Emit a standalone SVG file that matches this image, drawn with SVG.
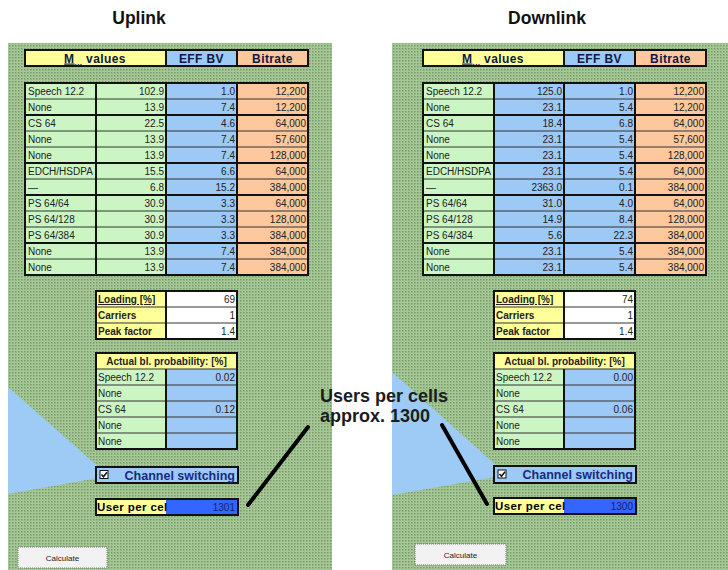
<svg xmlns="http://www.w3.org/2000/svg" width="728" height="570" viewBox="0 0 728 570">
<defs>
<pattern id="dots" width="3" height="3" patternUnits="userSpaceOnUse"><rect width="3" height="3" fill="#a6c897"/><rect width="1.5" height="1.5" fill="#779a69"/></pattern>
<clipPath id="labclip"><rect x="25" y="83" width="70" height="192"/></clipPath>
<style>
text{font-family:"Liberation Sans",Arial,sans-serif;fill:#222}
.c{font-size:10px}
.r{text-anchor:end}
.m{text-anchor:middle}
.b{font-weight:bold}
.h{font-size:12px;font-weight:bold;fill:#101840;text-anchor:middle;letter-spacing:0.4px}
.g{fill:#ccf5c4}
.bl{fill:#9cc9f5}
.o{fill:#fcc89c}
.y{fill:#ffff99}
.w{fill:#fff}
.frame{fill:none;stroke:#111;stroke-width:2}
.thin{stroke:#333;stroke-width:1}
.thick{stroke:#111;stroke-width:2}
.title{font-size:17.5px;font-weight:bold;fill:#111;text-anchor:middle}
.note{font-size:18px;font-weight:bold;fill:#1c1c1c}
.btn{fill:#f2f2f2;stroke:#777;stroke-width:1;stroke-dasharray:1,1}
</style>
</defs>
<rect width="728" height="570" fill="#fff"/>
<g id="panel-uplink">
<rect x="8" y="43" width="324" height="527" fill="url(#dots)"/>
<polygon points="8,387 109,476 8,494" fill="#9dcbf5"/>
</g>
<g id="panel-downlink">
<rect x="392" y="43" width="336" height="527" fill="url(#dots)"/>
<polygon points="392,372 507,475 392,495" fill="#9dcbf5"/>
</g>
<g id="title-uplink"><text class="title" x="139" y="24">Uplink</text></g>
<g id="title-downlink"><text class="title" x="547" y="24">Downlink</text></g>

<g id="ul-header">
<rect class="y" x="25" y="50" width="141" height="16"/><rect class="bl" x="166" y="50" width="71" height="16"/><rect class="o" x="237" y="50" width="71" height="16"/>
<rect class="frame" x="25" y="50" width="283" height="16"/><line class="thick" x1="166" y1="50" x2="166" y2="66"/><line class="thick" x1="237" y1="50" x2="237" y2="66"/>
<text class="h" x="95" y="62.5"><tspan text-decoration="underline">M</tspan><tspan font-size="8" dy="2">,..</tspan><tspan dy="-2"> values</tspan></text>
<text class="h" x="201.5" y="62.5">EFF BV</text><text class="h" x="272.5" y="62.5">Bitrate</text>
</g>
<g id="ul-table">
<rect class="g" x="25" y="83" width="141" height="192"/><rect class="bl" x="166" y="83" width="71" height="192"/><rect class="o" x="237" y="83" width="71" height="192"/>
<g class="thin"><line x1="25" y1="99" x2="308" y2="99"/><line x1="25" y1="131" x2="308" y2="131"/><line x1="25" y1="147" x2="308" y2="147"/><line x1="25" y1="179" x2="308" y2="179"/><line x1="25" y1="211" x2="308" y2="211"/><line x1="25" y1="227" x2="308" y2="227"/><line x1="25" y1="259" x2="308" y2="259"/></g>
<g class="thick"><line x1="25" y1="115" x2="308" y2="115"/><line x1="25" y1="163" x2="308" y2="163"/><line x1="25" y1="195" x2="308" y2="195"/><line x1="25" y1="243" x2="308" y2="243"/><line x1="96" y1="83" x2="96" y2="275"/><line x1="166" y1="83" x2="166" y2="275"/><line x1="237" y1="83" x2="237" y2="275"/></g>
<rect class="frame" x="25" y="83" width="283" height="192"/>
<g class="c" clip-path="url(#labclip)"><text x="28" y="95">Speech 12.2</text><text x="28" y="111">None</text><text x="28" y="127">CS 64</text><text x="28" y="143">None</text><text x="28" y="159">None</text><text x="28" y="175">EDCH/HSDPA</text><text x="28" y="191">—</text><text x="28" y="207">PS 64/64</text><text x="28" y="223">PS 64/128</text><text x="28" y="239">PS 64/384</text><text x="28" y="255">None</text><text x="28" y="271">None</text></g>
<g class="c r"><text x="164" y="95">102.9</text><text x="164" y="111">13.9</text><text x="164" y="127">22.5</text><text x="164" y="143">13.9</text><text x="164" y="159">13.9</text><text x="164" y="175">15.5</text><text x="164" y="191">6.8</text><text x="164" y="207">30.9</text><text x="164" y="223">30.9</text><text x="164" y="239">30.9</text><text x="164" y="255">13.9</text><text x="164" y="271">13.9</text></g>
<g class="c r"><text x="235" y="95">1.0</text><text x="235" y="111">7.4</text><text x="235" y="127">4.6</text><text x="235" y="143">7.4</text><text x="235" y="159">7.4</text><text x="235" y="175">6.6</text><text x="235" y="191">15.2</text><text x="235" y="207">3.3</text><text x="235" y="223">3.3</text><text x="235" y="239">3.3</text><text x="235" y="255">7.4</text><text x="235" y="271">7.4</text></g>
<g class="c r"><text x="306" y="95">12,200</text><text x="306" y="111">12,200</text><text x="306" y="127">64,000</text><text x="306" y="143">57,600</text><text x="306" y="159">128,000</text><text x="306" y="175">64,000</text><text x="306" y="191">384,000</text><text x="306" y="207">64,000</text><text x="306" y="223">128,000</text><text x="306" y="239">384,000</text><text x="306" y="255">384,000</text><text x="306" y="271">384,000</text></g>
</g>
<g id="ul-loading">
<rect class="y" x="96" y="291" width="70" height="48"/><rect class="w" x="166" y="291" width="71" height="48"/>
<line class="thin" x1="96" y1="307" x2="237" y2="307"/><line class="thin" x1="96" y1="323" x2="237" y2="323"/><line class="thick" x1="166" y1="291" x2="166" y2="339"/>
<rect class="frame" x="96" y="291" width="141" height="48"/>
<text class="c b" x="98" y="303" font-size="11" text-decoration="underline">Loading [%]</text><text class="c b" x="98" y="319" font-size="11">Carriers</text><text class="c b" x="98" y="335" font-size="11">Peak factor</text>
<g class="c r"><text x="235" y="303">69</text><text x="235" y="319">1</text><text x="235" y="335">1.4</text></g>
</g>
<g id="ul-blocking">
<rect class="y" x="96" y="353" width="141" height="16"/><rect class="g" x="96" y="369" width="70" height="80"/><rect class="bl" x="166" y="369" width="71" height="80"/>
<g class="thin"><line x1="96" y1="369" x2="237" y2="369"/><line x1="96" y1="385" x2="237" y2="385"/><line x1="96" y1="401" x2="237" y2="401"/><line x1="96" y1="417" x2="237" y2="417"/><line x1="96" y1="433" x2="237" y2="433"/></g>
<line class="thick" x1="166" y1="369" x2="166" y2="449"/>
<rect class="frame" x="96" y="353" width="141" height="96"/>
<text class="c b m" x="166.5" y="365">Actual bl. probability: [%]</text>
<g class="c"><text x="98" y="381">Speech 12.2</text><text x="98" y="397">None</text><text x="98" y="413">CS 64</text><text x="98" y="429">None</text><text x="98" y="445">None</text></g>
<g class="c r"><text x="235" y="381">0.02</text><text x="235" y="413">0.12</text></g>
</g>
<g id="ul-channel">
<rect class="bl" x="96" y="467" width="142" height="16"/><rect class="frame" x="96" y="467" width="142" height="16"/>
<rect x="100" y="470.5" width="8" height="8" fill="#fff" stroke="#111" stroke-width="1"/><path d="M101.5,474.5 l2,2.3 l3.5,-4.6" fill="none" stroke="#111" stroke-width="1.5"/>
<text class="b r" x="235" y="479.5" font-size="12.5" style="fill:#1a2a80">Channel switching</text>
</g>
<g id="ul-users">
<rect class="y" x="96" y="499" width="70" height="16"/><rect x="166" y="499" width="72" height="16" fill="#3366ff"/><rect class="frame" x="96" y="499" width="142" height="16"/>
<text class="b" x="97" y="511" font-size="11.5" letter-spacing="0.4" style="fill:#000">User per cel</text>
<text class="c r" x="235" y="511" style="fill:#14226e">1301</text>
</g>
<g id="ul-calc"><rect class="btn" x="18" y="547" width="89" height="21"/><text class="m" x="62.5" y="560.5" font-size="8">Calculate</text></g>

<g transform="translate(398,0)">
<g id="dl-header">
<rect class="y" x="25" y="50" width="141" height="16"/><rect class="bl" x="166" y="50" width="71" height="16"/><rect class="o" x="237" y="50" width="71" height="16"/>
<rect class="frame" x="25" y="50" width="283" height="16"/><line class="thick" x1="166" y1="50" x2="166" y2="66"/><line class="thick" x1="237" y1="50" x2="237" y2="66"/>
<text class="h" x="95" y="62.5"><tspan text-decoration="underline">M</tspan><tspan font-size="8" dy="2">,..</tspan><tspan dy="-2"> values</tspan></text>
<text class="h" x="201.5" y="62.5">EFF BV</text><text class="h" x="272.5" y="62.5">Bitrate</text>
</g>
<g id="dl-table">
<rect class="g" x="25" y="83" width="71" height="192"/><rect class="bl" x="96" y="83" width="141" height="192"/><rect class="o" x="237" y="83" width="71" height="192"/>
<g class="thin"><line x1="25" y1="99" x2="308" y2="99"/><line x1="25" y1="131" x2="308" y2="131"/><line x1="25" y1="147" x2="308" y2="147"/><line x1="25" y1="179" x2="308" y2="179"/><line x1="25" y1="211" x2="308" y2="211"/><line x1="25" y1="227" x2="308" y2="227"/><line x1="25" y1="259" x2="308" y2="259"/></g>
<g class="thick"><line x1="25" y1="115" x2="308" y2="115"/><line x1="25" y1="163" x2="308" y2="163"/><line x1="25" y1="195" x2="308" y2="195"/><line x1="25" y1="243" x2="308" y2="243"/><line x1="96" y1="83" x2="96" y2="275"/><line x1="166" y1="83" x2="166" y2="275"/><line x1="237" y1="83" x2="237" y2="275"/></g>
<rect class="frame" x="25" y="83" width="283" height="192"/>
<g class="c" clip-path="url(#labclip)"><text x="28" y="95">Speech 12.2</text><text x="28" y="111">None</text><text x="28" y="127">CS 64</text><text x="28" y="143">None</text><text x="28" y="159">None</text><text x="28" y="175">EDCH/HSDPA</text><text x="28" y="191">—</text><text x="28" y="207">PS 64/64</text><text x="28" y="223">PS 64/128</text><text x="28" y="239">PS 64/384</text><text x="28" y="255">None</text><text x="28" y="271">None</text></g>
<g class="c r"><text x="164" y="95">125.0</text><text x="164" y="111">23.1</text><text x="164" y="127">18.4</text><text x="164" y="143">23.1</text><text x="164" y="159">23.1</text><text x="164" y="175">23.1</text><text x="164" y="191">2363.0</text><text x="164" y="207">31.0</text><text x="164" y="223">14.9</text><text x="164" y="239">5.6</text><text x="164" y="255">23.1</text><text x="164" y="271">23.1</text></g>
<g class="c r"><text x="235" y="95">1.0</text><text x="235" y="111">5.4</text><text x="235" y="127">6.8</text><text x="235" y="143">5.4</text><text x="235" y="159">5.4</text><text x="235" y="175">5.4</text><text x="235" y="191">0.1</text><text x="235" y="207">4.0</text><text x="235" y="223">8.4</text><text x="235" y="239">22.3</text><text x="235" y="255">5.4</text><text x="235" y="271">5.4</text></g>
<g class="c r"><text x="306" y="95">12,200</text><text x="306" y="111">12,200</text><text x="306" y="127">64,000</text><text x="306" y="143">57,600</text><text x="306" y="159">128,000</text><text x="306" y="175">64,000</text><text x="306" y="191">384,000</text><text x="306" y="207">64,000</text><text x="306" y="223">128,000</text><text x="306" y="239">384,000</text><text x="306" y="255">384,000</text><text x="306" y="271">384,000</text></g>
</g>
<g id="dl-loading">
<rect class="y" x="96" y="291" width="70" height="48"/><rect class="w" x="166" y="291" width="71" height="48"/>
<line class="thin" x1="96" y1="307" x2="237" y2="307"/><line class="thin" x1="96" y1="323" x2="237" y2="323"/><line class="thick" x1="166" y1="291" x2="166" y2="339"/>
<rect class="frame" x="96" y="291" width="141" height="48"/>
<text class="c b" x="98" y="303" font-size="11" text-decoration="underline">Loading [%]</text><text class="c b" x="98" y="319" font-size="11">Carriers</text><text class="c b" x="98" y="335" font-size="11">Peak factor</text>
<g class="c r"><text x="235" y="303">74</text><text x="235" y="319">1</text><text x="235" y="335">1.4</text></g>
</g>
<g id="dl-blocking">
<rect class="y" x="96" y="353" width="141" height="16"/><rect class="g" x="96" y="369" width="70" height="80"/><rect class="bl" x="166" y="369" width="71" height="80"/>
<g class="thin"><line x1="96" y1="369" x2="237" y2="369"/><line x1="96" y1="385" x2="237" y2="385"/><line x1="96" y1="401" x2="237" y2="401"/><line x1="96" y1="417" x2="237" y2="417"/><line x1="96" y1="433" x2="237" y2="433"/></g>
<line class="thick" x1="166" y1="369" x2="166" y2="449"/>
<rect class="frame" x="96" y="353" width="141" height="96"/>
<text class="c b m" x="166.5" y="365">Actual bl. probability: [%]</text>
<g class="c"><text x="98" y="381">Speech 12.2</text><text x="98" y="397">None</text><text x="98" y="413">CS 64</text><text x="98" y="429">None</text><text x="98" y="445">None</text></g>
<g class="c r"><text x="235" y="381">0.00</text><text x="235" y="413">0.06</text></g>
</g>
<g id="dl-channel">
<rect class="bl" x="96" y="466" width="142" height="17"/><rect class="frame" x="96" y="466" width="142" height="17"/>
<rect x="100" y="470" width="8" height="8" fill="#fff" stroke="#111" stroke-width="1"/><path d="M101.5,474 l2,2.3 l3.5,-4.6" fill="none" stroke="#111" stroke-width="1.5"/>
<text class="b r" x="235" y="479" font-size="12.5" style="fill:#1a2a80">Channel switching</text>
</g>
<g id="dl-users">
<rect class="y" x="96" y="498" width="70" height="16"/><rect x="166" y="498" width="72" height="16" fill="#3366ff"/><rect class="frame" x="96" y="498" width="142" height="16"/>
<text class="b" x="97" y="510" font-size="11.5" letter-spacing="0.4" style="fill:#000">User per cel</text>
<text class="c r" x="235" y="510" style="fill:#14226e">1300</text>
</g>
</g>
<g id="dl-calc"><rect class="btn" x="415" y="544" width="91" height="21"/><text class="m" x="460.5" y="557.5" font-size="8">Calculate</text></g>

<g id="connectors" stroke="#000" stroke-width="4" stroke-linecap="round">
<line x1="308" y1="427" x2="248" y2="505"/>
<line x1="442" y1="425" x2="487" y2="504"/>
</g>
<g id="annotation">
<text class="note" x="320" y="402">Users per cells</text>
<text class="note" x="320" y="422">approx. 1300</text>
</g>
</svg>
